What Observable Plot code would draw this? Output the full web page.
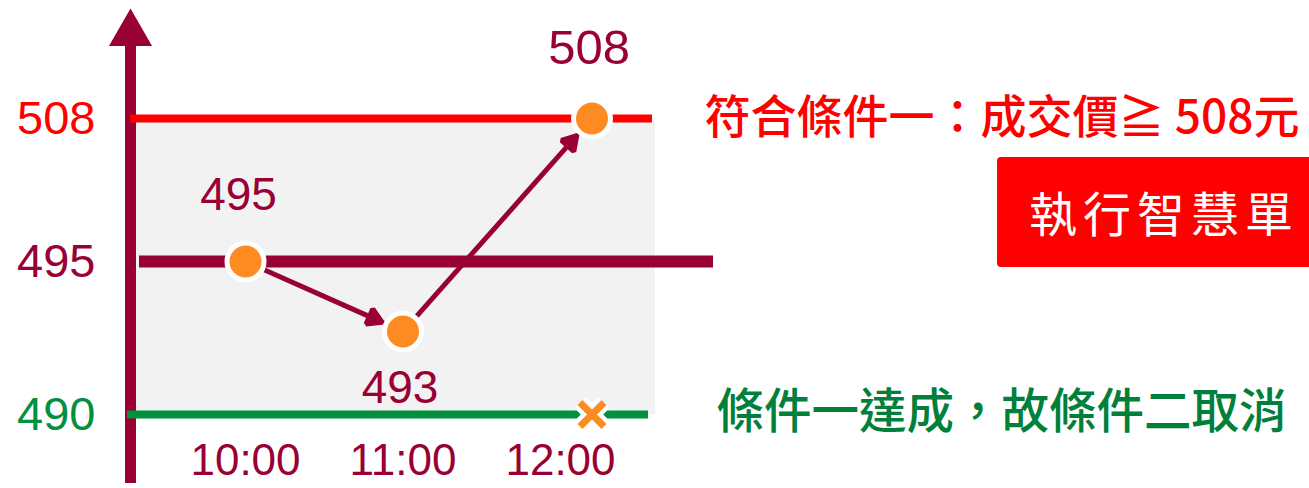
<!DOCTYPE html>
<html><head><meta charset="utf-8">
<script src="https://cdn.jsdelivr.net/npm/d3@7"></script>
<script src="https://cdn.jsdelivr.net/npm/@observablehq/plot@0.6"></script>
<style>
body{margin:0;background:#fff;}
#wrap{position:relative;width:1309px;height:488px;overflow:hidden;}
#wrap svg{display:block;}
#badge{position:absolute;left:997px;top:157px;width:340px;height:110px;background:#ff0000;border-radius:4px;color:#fff;font-family:"Noto Sans CJK TC",sans-serif;font-size:48px;line-height:108px;padding-left:32px;letter-spacing:6px;box-sizing:border-box;white-space:nowrap;}
</style></head>
<body><div id="wrap"></div>
<script>
// ---- data ----
const times = [10, 11, 12.2];          // hour of each trade price
const prices = [495, 493, 508];        // trade prices
const priceLabels = ["495", "493", "508"];
const tickHours = [10, 11, 12];
const tickTimeLabels = ["10:00", "11:00", "12:00"];
const upperLevel = 508;                // condition 1 trigger
const baseLevel = 495;                 // reference price
const lowerLevel = 490;                // condition 2 trigger
const levelPrices = [508, 495, 490];
const levelLabels = ["508", "495", "490"];
const upperCondition = "符合條件一：成交價≧ 508元";
const lowerCondition = "條件一達成，故條件二取消";
const actionLabel = "執行智慧單";

// ---- styles ----
const maroon = "#990033", red = "#ff0000", green = "#00903e", greenText = "#00803a",
      orange = "#fd8b21", grey = "#f2f2f2";

const points = times.map((t, i) => ({t, p: prices[i], label: priceLabels[i]}));
const segments = points.slice(1).map((d, i) => ({t1: points[i].t, p1: points[i].p, t2: d.t, p2: d.p}));
const levels = levelPrices.map((p, i) => ({p, label: levelLabels[i]}));
const levelColors = [red, maroon, green];
const ticks = tickHours.map((h, i) => ({h, label: tickTimeLabels[i]}));

const numFont = "Liberation Sans, Arial, sans-serif";
const cjkFont = "Noto Sans CJK TC, sans-serif";

const marks = [
  Plot.rect([{}], {y1: upperLevel, y2: lowerLevel, fill: grey, insetLeft: 6, insetRight: -3}),
  Plot.frame({anchor: "left", stroke: maroon, strokeWidth: 11}),
  Plot.dot([{}], {x: null, y: null, frameAnchor: "top-left", symbol: "triangle", r: 16, dy: 2, fill: maroon}),
  Plot.ruleY([upperLevel], {stroke: red, strokeWidth: 8}),
  Plot.ruleY([baseLevel], {stroke: maroon, strokeWidth: 12, insetLeft: 9, insetRight: -61}),
  Plot.ruleY([lowerLevel], {stroke: green, strokeWidth: 8, insetLeft: -3, insetRight: 4}),
  Plot.dot([lowerLevel], {x: times[2], y: d => d, symbol: "times", r: 11, stroke: "white", strokeWidth: 16}),
  Plot.dot([lowerLevel], {x: times[2], y: d => d, symbol: "times", r: 11, stroke: orange, strokeWidth: 7}),
  Plot.arrow(segments, {x1: "t1", y1: "p1", x2: "t2", y2: "p2", stroke: maroon, strokeWidth: 5,
    headLength: 4.8, headAngle: 62, insetStart: 21, insetEnd: 23}),
  Plot.dot(points, {x: "t", y: "p", r: 18.5, fill: orange, stroke: "white", strokeWidth: 5}),
  Plot.text(points.filter(d => d.p === 495), {x: "t", y: "p", text: "label", dy: -66, dx: -7,
    fill: maroon, fontSize: 46, fontFamily: numFont}),
  Plot.text(points.filter(d => d.p === 493), {x: "t", y: "p", text: "label", dy: 57, dx: -3,
    fill: maroon, fontSize: 46, fontFamily: numFont}),
  Plot.text(points.filter(d => d.p === 508), {x: "t", y: "p", text: "label", dy: -70, dx: -3,
    fill: maroon, fontSize: 49, fontFamily: numFont}),
  ...levels.map((d, i) => Plot.text([d], {y: "p", text: "label", frameAnchor: "left", textAnchor: "end",
    dx: -35, fill: levelColors[i], fontSize: 47, fontFamily: numFont})),
  Plot.text(ticks, {x: "h", text: "label", frameAnchor: "bottom", lineAnchor: "middle", dy: -17, fill: maroon,
    fontSize: 44, fontFamily: numFont}),
  Plot.text([upperCondition], {y: upperLevel, text: d => d, frameAnchor: "right", textAnchor: "start",
    dx: 52, fill: red, fontSize: 46, fontWeight: 500, fontFamily: cjkFont}),
  Plot.text([lowerCondition], {y: lowerLevel, text: d => d, frameAnchor: "right", textAnchor: "start",
    dx: 64, dy: -2, fill: greenText, fontSize: 47.5, fontWeight: 500, fontFamily: cjkFont})
];

const chart = Plot.plot({
  width: 1309, height: 488,
  marginLeft: 130, marginRight: 657, marginTop: 31, marginBottom: 11,
  x: {type: "linear", domain: [10, 12], range: [245, 560], axis: null},
  y: {type: "linear", domain: [490, 493, 495, 508], range: [414, 331, 261, 118], axis: null},
  style: {background: "white", overflow: "visible", fontFamily: numFont},
  marks
});

d3.select(chart).selectAll('g[aria-label="arrow"] path')
  .attr("fill", maroon)
  .attr("stroke-linejoin", "miter")
  .attr("d", function () { return this.getAttribute("d") + "Z"; });

const wrap = document.getElementById("wrap");
wrap.appendChild(chart);
const badge = document.createElement("div");
badge.id = "badge";
badge.textContent = actionLabel;
wrap.appendChild(badge);
</script>
</body></html>
